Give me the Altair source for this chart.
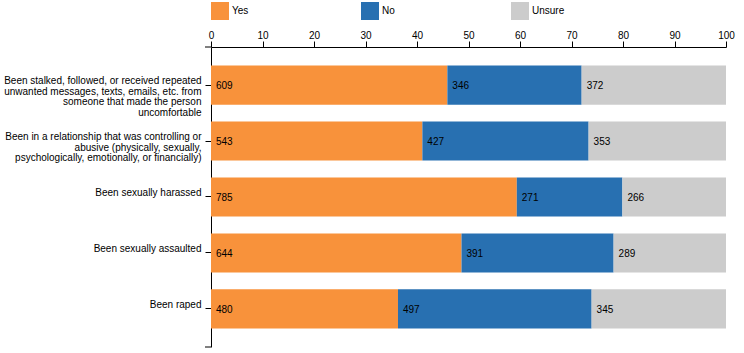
import altair as alt
import pandas as pd

items = [
    "Been stalked, followed, or received repeated|unwanted messages, texts, emails, etc. from|someone that made the person|uncomfortable",
    "Been in a relationship that was controlling or|abusive (physically, sexually,|psychologically, emotionally, or financially)",
    "Been sexually harassed",
    "Been sexually assaulted",
    "Been raped",
]
answers = ["Yes", "No", "Unsure"]
yes_counts = [609, 543, 785, 644, 480]
no_counts = [346, 427, 271, 391, 497]
unsure_counts = [372, 353, 266, 289, 345]
colors = ["#f8923b", "#2870b1", "#cccccc"]
x_ticks = [0, 10, 20, 30, 40, 50, 60, 70, 80, 90, 100]

rows = []
for i, item in enumerate(items):
    for k, (ans, vals) in enumerate(zip(answers, [yes_counts, no_counts, unsure_counts])):
        rows.append({"item": item, "answer": ans, "order": k, "count": vals[i]})
df = pd.DataFrame(rows)

FONT = "Liberation Sans"

base = (
    alt.Chart(df)
    .transform_joinaggregate(total="sum(count)", groupby=["item"])
    .transform_calculate(pct="datum.count / datum.total * 100")
    .transform_stack(stack="pct", groupby=["item"], as_=["x0", "x1"],
                     sort=[alt.SortField("order", order="ascending")])
)

y_enc = alt.Y(
    "item:N", sort=items, title=None,
    scale=alt.Scale(paddingInner=0.3, paddingOuter=0.33),
    axis=alt.Axis(
        labelExpr="split(datum.label, '|')",
        labelFont=FONT, labelFontSize=10, labelColor="black",
        labelBaseline="alphabetic", labelLineHeight=10.7, labelAlign="right",
        labelLimit=0, labelPadding=4, labelOffset=-1, tickSize=6, tickColor="black",
        domainColor="black", grid=False,
    ),
)

bars = base.mark_bar().encode(
    x=alt.X(
        "x0:Q", title=None,
        scale=alt.Scale(domain=[0, 100], nice=False),
        axis=alt.Axis(
            orient="top", values=x_ticks, tickSize=6, tickColor="black",
            domainColor="black", labelFont=FONT, labelFontSize=10,
            labelColor="black", labelPadding=1, grid=False, labelFlush=False,
        ),
    ),
    x2="x1:Q",
    y=y_enc,
    color=alt.Color(
        "answer:N",
        scale=alt.Scale(domain=answers, range=colors),
        legend=alt.Legend(
            title=None, orient="none", legendX=0, legendY=-45,
            direction="horizontal", columns=3, gridAlign="all",
            columnPadding=96, symbolType="square", symbolSize=324,
            symbolStrokeWidth=0, symbolOpacity=1, labelOffset=3,
            labelFont=FONT, labelFontSize=10, labelColor="black",
        ),
    ),
)

labels = base.mark_text(
    align="left", baseline="middle", dx=5, dy=1,
    font=FONT, fontSize=10, color="black",
).encode(
    x="x0:Q",
    y=alt.Y("item:N", sort=items),
    text="count:Q",
)

end_ticks = alt.Chart(pd.DataFrame({"pos": [0, 300]})).mark_rule(
    color="black", strokeWidth=1
).encode(
    x=alt.value(-6), x2=alt.value(0), y=alt.Y("pos:Q", scale=None),
)

chart = (
    alt.layer(bars, labels, end_ticks)
    .properties(
        width=515, height=300,
        autosize=alt.AutoSizeParams(type="none"),
        padding={"left": 211, "top": 47, "right": 18, "bottom": 6},
    )
    .configure_view(stroke=None)
)

chart.save("out.html", embed_options={"renderer": "svg", "actions": False})
